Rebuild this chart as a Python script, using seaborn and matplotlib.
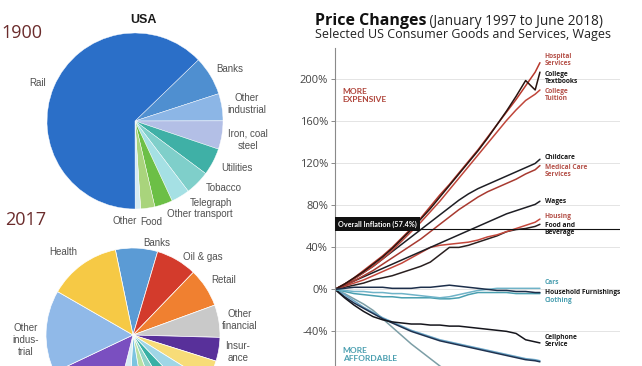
import numpy as np
import pandas as pd
import matplotlib
matplotlib.use('Agg')
import matplotlib.pyplot as plt
import seaborn as sns

sns.set_style('white')
plt.rcParams['font.family'] = ['Lato', 'DejaVu Sans']

# --- data: 1900 pie (share of US stock market) ---
labels_1900 = ['Banks', 'Other industrial', 'Iron, coal steel', 'Utilities', 'Tobacco',
               'Telegraph', 'Other transport', 'Food', 'Other', 'Rail']
share_1900 = [7.2, 5.0, 5.2, 5.0, 4.5, 3.4, 3.3, 2.6, 1.0, 62.8]
colors_1900 = ['#4f8fd0', '#8cb6e6', '#b3bfe6', '#3fb0a6', '#7fcfca',
               '#a5e0e4', '#6cbf46', '#a9d47c', '#d6ebf2', '#2b6fc8']

# --- data: 2017 pie ---
labels_2017 = ['Banks', 'Oil & gas', 'Retail', 'Other financial', 'Insurance',
               's1', 's2', 's3', 's4', 's5', 's6', 's7',
               'Tech', 'Other industrial', 'Health']
share_2017 = [7.8, 7.6, 7.2, 6.0, 4.4, 4.0, 4.0, 3.5, 3.0, 3.0, 3.5, 3.0, 14.0, 15.3, 13.4]
colors_2017 = ['#5b9bd5', '#d33b2c', '#f08030', '#c9c9c9', '#58309a',
               '#f7dc78', '#9fd6e6', '#38b0a5', '#8fd4c9', '#b9e0a2', '#7cc4e0', '#d8eef5',
               '#7a4fc0', '#90b9e8', '#f6c945']

# --- data: price changes Jan 1997 - Jun 2018 (%) ---
years = [1997, 1998, 1999, 2000, 2001, 2002, 2003, 2004, 2005, 2006, 2007, 2008,
         2009, 2010, 2011, 2012, 2013, 2014, 2015, 2016, 2017, 2018, 2018.5]
hospital = [0, 5, 11, 18, 25, 32, 40, 49, 58, 68, 79, 90, 100, 111, 122, 133, 145, 157, 169, 181, 194, 207, 216]
textbooks = [0, 5, 11, 17, 24, 31, 39, 48, 57, 67, 77, 88, 99, 110, 121, 132, 144, 157, 170, 184, 199, 190, 207]
tuition = [0, 5, 10, 16, 22, 29, 37, 46, 55, 64, 74, 84, 95, 106, 117, 128, 139, 150, 161, 171, 180, 186, 190]
childcare = [0, 5, 10, 16, 22, 29, 36, 43, 50, 57, 64, 71, 78, 85, 91, 96, 100, 104, 108, 112, 116, 120, 124]
medical = [0, 4, 8, 13, 18, 24, 30, 36, 42, 48, 55, 62, 69, 76, 82, 88, 93, 97, 101, 105, 110, 114, 118]
wages = [0, 4, 8, 12, 16, 20, 24, 28, 32, 36, 40, 44, 48, 52, 56, 60, 64, 68, 72, 75, 78, 81, 84]
housing = [0, 3, 6, 9, 13, 17, 21, 25, 30, 35, 40, 42, 43, 44, 45, 47, 50, 52, 55, 58, 61, 64, 67]
food = [0, 2, 4, 6, 9, 11, 13, 16, 19, 22, 26, 33, 40, 40, 42, 45, 48, 51, 55, 57, 58, 60, 62]
cars = [0, -1, -2, -2, -3, -3, -4, -4, -5, -6, -7, -8, -7, -5, -3, -1, 0, 1, 1, 1, 1, 1, 1]
furnishings = [0, 1, 2, 2, 2, 2, 1, 1, 1, 2, 2, 3, 4, 3, 2, 1, 0, -1, -1, -2, -2, -3, -3]
clothing = [0, -2, -4, -5, -6, -7, -7, -8, -8, -8, -8, -9, -9, -8, -5, -3, -3, -3, -3, -4, -4, -4, -4]
cellphone = [0, -8, -15, -21, -26, -29, -31, -32, -33, -33, -34, -34, -35, -35, -36, -37, -38, -39, -40, -42, -48, -50, -51]
software = [0, -7, -13, -18, -23, -28, -32, -36, -40, -43, -46, -49, -51, -53, -55, -57, -59, -61, -63, -65, -67, -68, -69]
toys = [0, -5, -11, -17, -22, -27, -31, -35, -39, -42, -45, -48, -50, -52, -54, -56, -58, -60, -62, -64, -66, -67, -68]
tvs = [0, -4, -9, -14, -20, -28, -36, -44, -52, -59, -66, -73, -79, -83, -86, -88, -90, -92, -93, -94, -95, -95, -96]
inflation = 57.4

series = {'Food and Beverage': food, 'Housing': housing, 'Wages': wages,
          'Medical Care Services': medical, 'Childcare': childcare,
          'College Tuition': tuition, 'Hospital Services': hospital, 'College Textbooks': textbooks,
          'TVs': tvs, 'Toys': toys, 'Software': software, 'Cellphone Service': cellphone,
          'Clothing': clothing, 'Cars': cars, 'Household Furnishings': furnishings}
line_colors = {'Hospital Services': '#b8382c', 'College Textbooks': '#2a1410', 'College Tuition': '#c0463a',
               'Childcare': '#1e1e24', 'Medical Care Services': '#a83a30', 'Wages': '#1e1e24',
               'Housing': '#c4473b', 'Food and Beverage': '#2a2020', 'Cars': '#6fb3c8',
               'Household Furnishings': '#1c2e4a', 'Clothing': '#4a9fb0', 'Cellphone Service': '#15151c',
               'Software': '#1f3250', 'Toys': '#6aa6c8', 'TVs': '#7c9ea6'}

rows = []
for name, vals in series.items():
    for yr, v in zip(years, vals):
        rows.append((name, yr, v))
df = pd.DataFrame(rows, columns=['series', 'year', 'change'])

W, H = 642, 366
fig = plt.figure(figsize=(W / 100, H / 100), dpi=100)
fig.patch.set_facecolor('white')

def fx(px):
    return px / W

def fy(py):
    return 1 - py / H

def pie_axes(cx, cy, r):
    return fig.add_axes([fx(cx - r), fy(cy + r), 2 * r / W, 2 * r / H])

# 1900 pie
ax1 = pie_axes(135, 121, 88)
ax1.pie(share_1900, colors=colors_1900, startangle=44, counterclock=False,
        wedgeprops=dict(linewidth=0.3, edgecolor='white'))
ax1.set_xlim(-1, 1)
ax1.set_ylim(-1, 1)
ax1.set_aspect('auto')

# 2017 pie (cut by the bottom edge)
ax2 = pie_axes(133, 335, 87)
ax2.pie(share_2017, colors=colors_2017, startangle=101.7, counterclock=False,
        wedgeprops=dict(linewidth=0.5, edgecolor='white'))
ax2.set_xlim(-1, 1)
ax2.set_ylim(-1, 1)
ax2.set_aspect('auto')

lab_kw = dict(fontsize=7, color='#505050', ha='center', va='center',
              family=['Liberation Sans', 'DejaVu Sans'], linespacing=1.25)
pie_texts = [('Rail', 38, 83), ('Banks', 230, 69), ('Other\nindustrial', 247, 104),
             ('Iron, coal\nsteel', 248, 140), ('Utilities', 237, 168), ('Tobacco', 224, 188),
             ('Telegraph', 211, 203), ('Other transport', 200, 214), ('Other', 125, 221),
             ('Food', 151, 222),
             ('Health', 63, 252), ('Banks', 157, 243), ('Oil & gas', 203, 257), ('Retail', 224, 280),
             ('Other\nfinancial', 240, 320), ('Insur-\nance', 238, 352), ('Other\nindus-\ntrial', 26, 340)]
for txt, px, py in pie_texts:
    fig.text(fx(px), fy(py), txt, **lab_kw)

fig.text(fx(143), fy(20), 'USA', fontsize=9, fontweight='bold', ha='center', va='center',
         family=['Liberation Sans', 'DejaVu Sans'], color='#1a1a1a')
for yr_txt, px, py in [('1900', 22, 33), ('2017', 26, 220)]:
    fig.text(fx(px), fy(py), yr_txt, fontsize=13, ha='center', va='center',
             family=['Open Sans', 'DejaVu Sans'], color='#6b2c2c')

# price change lines
ax = fig.add_axes([fx(335), 0, fx(620) - fx(335), 318 / H])
sns.lineplot(data=df, x='year', y='change', hue='series', palette=line_colors, ax=ax,
             legend=False, estimator=None, sort=False, linewidth=1.1)
ax.axhline(inflation, color='#111111', linewidth=0.8, zorder=5)
ax.set_xlim(1997, 2026.9)
ax.set_ylim(-73, 230)
yt = [-40, 0, 40, 80, 120, 160, 200]
ax.set_yticks(yt)
ax.set_yticklabels([f'{v}%' for v in yt], fontsize=8, color='#444444',
                   family=['Open Sans', 'DejaVu Sans'])
ax.set_xticks([])
ax.set_xlabel('')
ax.set_ylabel('')
ax.grid(axis='y', color='#e4e4e4', linewidth=0.7)
ax.set_axisbelow(True)
for s in ['top', 'right', 'bottom']:
    ax.spines[s].set_visible(False)
ax.spines['left'].set_color('#8a8a8a')
ax.spines['left'].set_linewidth(0.8)
ax.tick_params(axis='y', left=True, length=3, width=0.7, color='#8a8a8a', pad=2)

ax.text(1997.3, inflation + 1.5, 'Overall Inflation (57.4%)', fontsize=5.2, fontweight='bold',
        color='white', ha='left', va='bottom',
        bbox=dict(boxstyle='square,pad=0.45', facecolor='#111111', edgecolor='none'))

red_lab, blk_lab, teal_lab = '#b5524a', '#1a1a1a', '#4a9fb0'
end_labels = [('Hospital\nServices', 219, red_lab), ('College\nTextbooks', 201, blk_lab),
              ('College\nTuition', 185, red_lab), ('Childcare', 126, blk_lab),
              ('Medical Care\nServices', 113, red_lab), ('Wages', 84, blk_lab),
              ('Housing', 69, red_lab), ('Food and\nBeverage', 58, blk_lab),
              ('Cars', 7, teal_lab), ('Household Furnishings', -3, blk_lab),
              ('Clothing', -11, teal_lab), ('Cellphone\nService', -49, blk_lab)]
for txt, yv, c in end_labels:
    ax.text(2019.0, yv, txt, fontsize=4.8, fontweight='bold', color=c, ha='left', va='center',
            family=['Open Sans', 'DejaVu Sans'], linespacing=1.0)

ax.text(1997.8, 185, 'MORE\nEXPENSIVE', fontsize=6, fontweight='bold', color='#b0463c',
        ha='left', va='center', linespacing=1.1)
ax.text(1997.8, -62, 'MORE\nAFFORDABLE', fontsize=6, fontweight='bold', color='#4a9fb0',
        ha='left', va='center', linespacing=1.1)

t = fig.text(fx(315), fy(25), 'Price Changes', fontsize=11.5, fontweight='bold',
             family=['Open Sans', 'DejaVu Sans'], color='#111111', ha='left', va='baseline')
ax.annotate(' (January 1997 to June 2018)', xy=(1, 0), xycoords=t, fontsize=9.8,
            family=['Open Sans', 'DejaVu Sans'], color='#222222', ha='left', va='bottom')
fig.text(fx(315), fy(38), 'Selected US Consumer Goods and Services, Wages', fontsize=9,
         family=['Open Sans', 'DejaVu Sans'], color='#222222', ha='left', va='baseline')

fig.savefig('out.png', dpi=100, facecolor='white')
